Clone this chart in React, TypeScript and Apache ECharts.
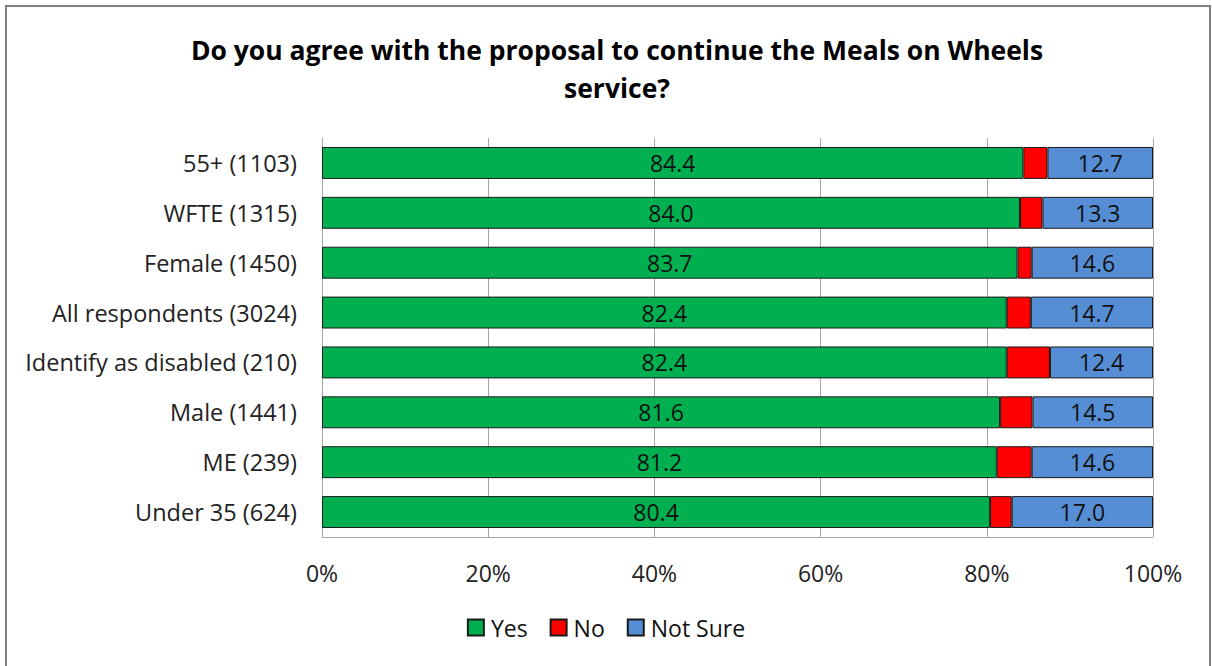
import React, { useEffect, useRef } from "react";
import * as echarts from "echarts";

const categories = [
  "55+ (1103)",
  "WFTE (1315)",
  "Female (1450)",
  "All respondents (3024)",
  "Identify as disabled (210)",
  "Male (1441)",
  "ME (239)",
  "Under 35 (624)",
];
const yesValues = [84.4, 84.0, 83.7, 82.4, 82.4, 81.6, 81.2, 80.4];
const noValues = [2.9, 2.7, 1.7, 2.9, 5.2, 3.9, 4.2, 2.6];
const notSureValues = [12.7, 13.3, 14.6, 14.7, 12.4, 14.5, 14.6, 17.0];
const xTicks = [0, 20, 40, 60, 80, 100];

const FONT = "'Open Sans', 'Noto Sans', sans-serif";

export default function App() {
  const ref = useRef<HTMLDivElement>(null);
  useEffect(() => {
    const el = ref.current!;
    const chart = echarts.init(el, undefined, { renderer: "svg" });
    const cats = [...categories].reverse();
    const rev = (a: number[]) => [...a].reverse();
    const labelCfg = {
      show: true,
      position: "inside",
      color: "#111",
      fontSize: 23,
      fontFamily: FONT,
      formatter: (p: any) => Number(p.value).toFixed(1),
    };
    chart.setOption({
      animation: false,
      backgroundColor: "#fff",
      title: {
        text: "Do you agree with the proposal to continue the Meals on Wheels\nservice?",
        left: 612,
        textAlign: "center",
        top: 26,
        textStyle: {
          fontFamily: FONT,
          fontSize: 26.5,
          fontWeight: "bold",
          color: "#000",
          lineHeight: 38,
        },
      },
      legend: {
        top: 611,
        left: "center",
        itemWidth: 16,
        itemHeight: 16,
        itemGap: 22,
        icon: "rect",
        textStyle: { fontFamily: FONT, fontSize: 23, color: "#111", padding: [0, 0, 0, 2] },
        data: ["Yes", "No", "Not Sure"],
      },
      grid: { left: 322, right: 59, top: 138, bottom: 129 },
      xAxis: {
        type: "value",
        min: 0,
        max: 100,
        interval: 20,
        axisLine: { show: false },
        axisTick: { show: false },
        splitLine: { show: true, lineStyle: { color: "#a6a6a6", width: 1 } },
        axisLabel: {
          formatter: (v: number) => (xTicks.includes(v) ? v + "%" : ""),
          fontFamily: FONT,
          fontSize: 23,
          color: "#222",
          margin: 24,
        },
      },
      yAxis: {
        type: "category",
        data: cats,
        axisLine: { show: true, lineStyle: { color: "#a6a6a6" } },
        axisTick: { show: false },
        axisLabel: { fontFamily: FONT, fontSize: 23.5, color: "#222", margin: 25 },
      },
      series: [
        {
          name: "Yes",
          type: "bar",
          stack: "t",
          barWidth: "64%",
          data: rev(yesValues),
          itemStyle: { color: "#00b050", borderColor: "#1a1a1a", borderWidth: 1 },
          label: labelCfg,
        },
        {
          name: "No",
          type: "bar",
          stack: "t",
          data: rev(noValues),
          itemStyle: { color: "#ff0000", borderColor: "#1a1a1a", borderWidth: 1 },
          label: { show: false },
        },
        {
          name: "Not Sure",
          type: "bar",
          stack: "t",
          data: rev(notSureValues),
          itemStyle: { color: "#558ed5", borderColor: "#1a1a1a", borderWidth: 1 },
          label: labelCfg,
        },
      ],
      graphic: [
        {
          type: "line",
          shape: { x1: 322, y1: 537.5, x2: 1153, y2: 537.5 },
          style: { stroke: "#a6a6a6", lineWidth: 1 },
          z: 0,
        },
        {
          type: "rect",
          shape: { x: 6, y: 6, width: 1204, height: 662 },
          style: { fill: "none", stroke: "#7f7f7f", lineWidth: 2 },
          z: 10,
        },
      ],
    });
    return () => chart.dispose();
  }, []);
  return (
    <div
      ref={ref}
      style={{ position: "absolute", left: 0, top: 0, width: 1212, height: 666 }}
    />
  );
}
